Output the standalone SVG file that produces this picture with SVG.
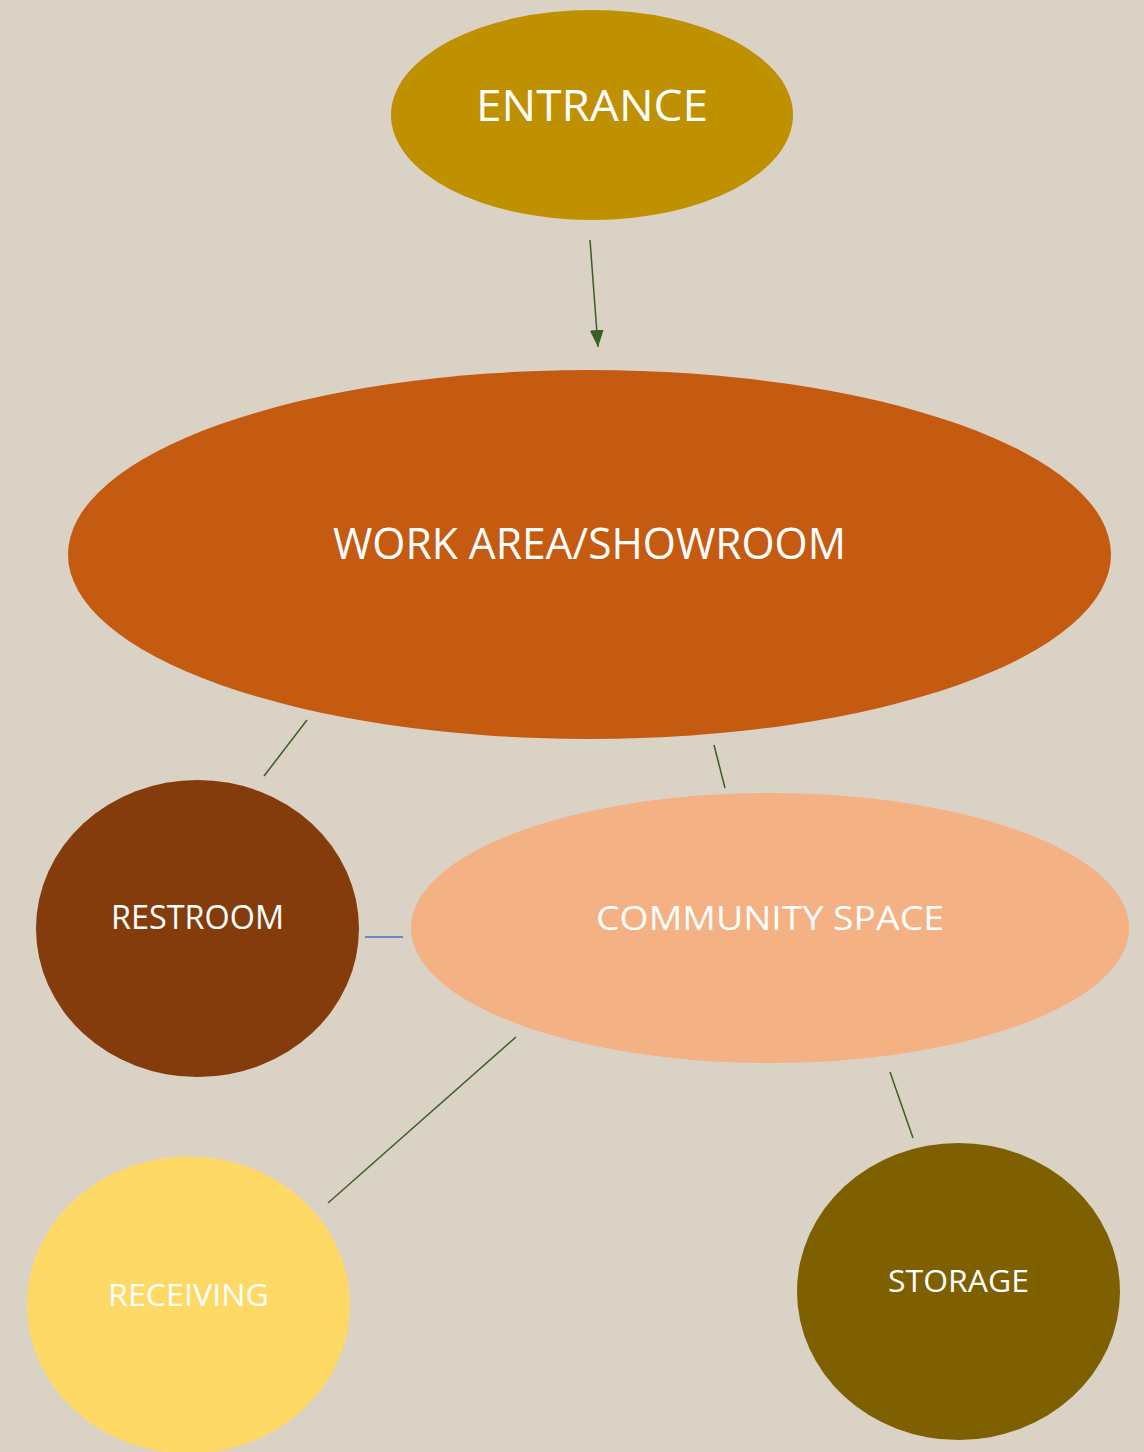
<svg xmlns="http://www.w3.org/2000/svg" width="1144" height="1452" viewBox="0 0 1144 1452">
<defs>
<style>
.lbl{font-family:"Open Sans","Noto Sans","Liberation Sans",sans-serif;fill:#FFFFFF;text-anchor:middle}
.con{stroke:#3A5F23;stroke-width:1.5;fill:none}
</style>
<marker id="arr" markerWidth="17" markerHeight="14" refX="17" refY="7" orient="auto" markerUnits="userSpaceOnUse" viewBox="0 0 17 14">
<path d="M0,0 L17,7 L0,14 Z" fill="#3A5F23"/>
</marker>
</defs>
<rect width="1144" height="1452" fill="#D9D2C5"/>
<g id="entrance">
<ellipse cx="592" cy="115" rx="201" ry="105" fill="#BF9000"/>
<text class="lbl" x="592" y="121" font-size="43" textLength="232" lengthAdjust="spacingAndGlyphs">ENTRANCE</text>
</g>
<g id="work-area">
<ellipse cx="589.5" cy="554.5" rx="521.5" ry="184.5" fill="#C55A11"/>
<text class="lbl" x="589.5" y="559" font-size="43" textLength="513" lengthAdjust="spacingAndGlyphs">WORK AREA/SHOWROOM</text>
</g>
<g id="restroom">
<ellipse cx="197.5" cy="928.5" rx="161.5" ry="148.5" fill="#843C0C"/>
<text class="lbl" x="197.5" y="929" font-size="32" textLength="173" lengthAdjust="spacingAndGlyphs">RESTROOM</text>
</g>
<g id="community-space">
<ellipse cx="770" cy="928" rx="359" ry="135" fill="#F4B183"/>
<text class="lbl" x="770" y="930" font-size="33" textLength="348" lengthAdjust="spacingAndGlyphs">COMMUNITY SPACE</text>
</g>
<g id="receiving">
<ellipse cx="188.5" cy="1305" rx="161.5" ry="148.5" fill="#FFD966"/>
<text class="lbl" x="188.5" y="1306" font-size="31" textLength="161" lengthAdjust="spacingAndGlyphs">RECEIVING</text>
</g>
<g id="storage">
<ellipse cx="958.5" cy="1291.5" rx="161.5" ry="148.5" fill="#7F6000"/>
<text class="lbl" x="958.5" y="1292" font-size="31" textLength="141" lengthAdjust="spacingAndGlyphs">STORAGE</text>
</g>
<g id="connectors">
<line class="con" x1="590" y1="240" x2="598" y2="347" marker-end="url(#arr)"/>
<line class="con" x1="307" y1="720" x2="264" y2="776"/>
<line x1="365" y1="937" x2="403" y2="937" stroke="#4472C4" stroke-width="1.5"/>
<line class="con" x1="714" y1="745" x2="725" y2="788"/>
<line class="con" x1="890" y1="1072" x2="913" y2="1138"/>
<line class="con" x1="516" y1="1037" x2="328" y2="1203"/>
</g>
</svg>
